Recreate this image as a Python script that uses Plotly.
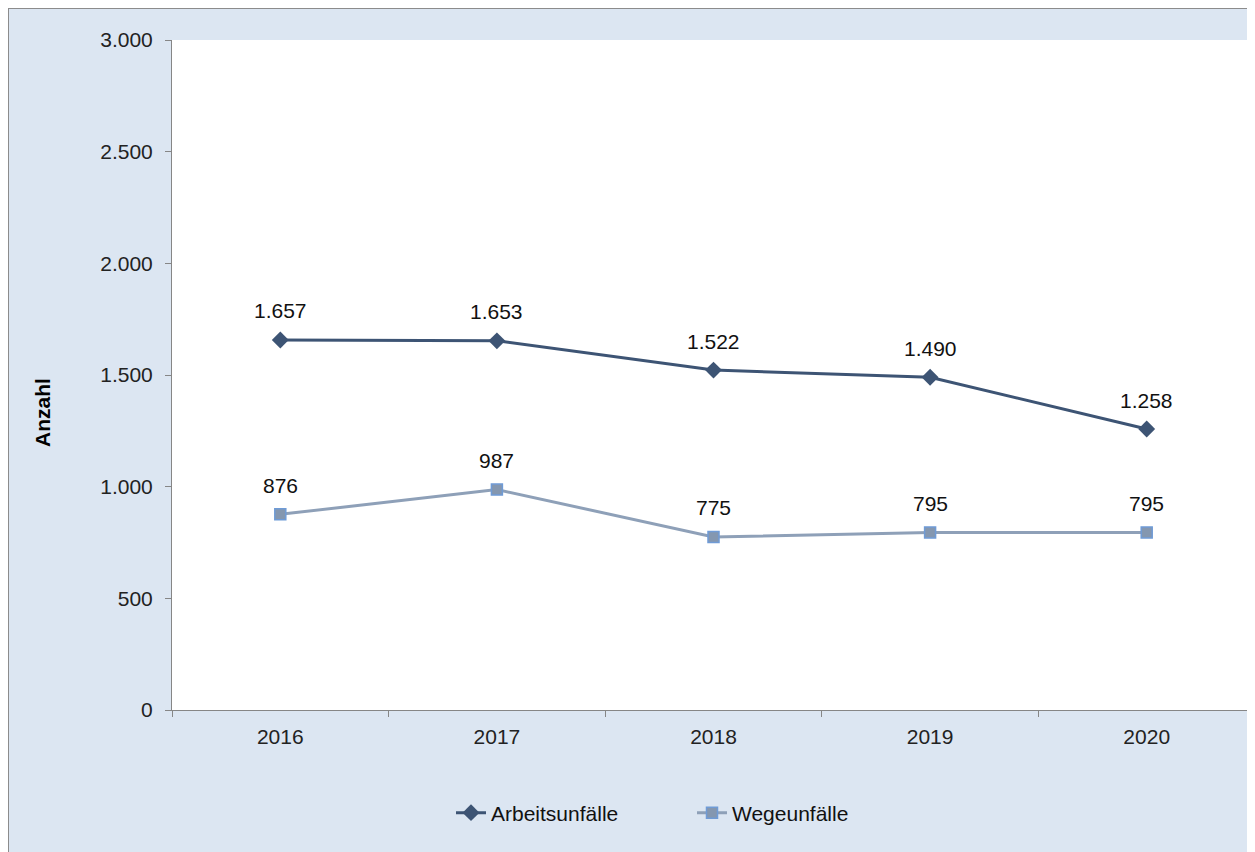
import plotly.graph_objects as go

# Data
years = ["2016", "2017", "2018", "2019", "2020"]
arbeitsunfaelle = [1657, 1653, 1522, 1490, 1258]
wegeunfaelle = [876, 987, 775, 795, 795]

# page has an 8px body margin, so the figure starts at (8, 8)
OFF = 8
W, H = 1255 - OFF, 852 - OFF
L, R, T, B = 172 - OFF, 0, 40 - OFF, 852 - 710
pw, ph = W - L - R, H - T - B

font = "Liberation Sans, Arial, sans-serif"
dark = "#3D5474"
light = "#8EA0B8"
fs = 21

fig = go.Figure()

fig.add_trace(go.Scatter(
    x=years, y=arbeitsunfaelle, name="Arbeitsunfälle", mode="lines+markers",
    line=dict(color=dark, width=3),
    marker=dict(symbol="diamond", size=13, color=dark, line=dict(width=0)),
))
fig.add_trace(go.Scatter(
    x=years, y=wegeunfaelle, name="Wegeunfälle", mode="lines+markers",
    line=dict(color=light, width=3),
    marker=dict(symbol="square", size=11, color="#8497B0", line=dict(color="#6F9BD6", width=1.5)),
))

# data labels above the points (category index on x)
annots = []
for series in (arbeitsunfaelle, wegeunfaelle):
    for i, v in enumerate(series):
        annots.append(dict(
            x=i, y=v, xref="x", yref="y", text=f"{v:,}".replace(",", "."),
            showarrow=False, yshift=29, xanchor="center", yanchor="middle",
            font=dict(family=font, size=fs, color="#111111"),
        ))

annots.append(dict(
    text="<b>Anzahl</b>", xref="paper", yref="paper",
    x=(42 - 172) / pw, y=(710 - 413) / ph, textangle=-90, showarrow=False,
    xanchor="center", yanchor="middle",
    font=dict(family=font, size=fs, color="#000000"),
))

# grey frame round the light blue chart area (cropped at right/bottom)
shapes = [
    dict(type="line", xref="paper", yref="paper", x0=-L / pw, x1=1.05,
         y0=1 + T / ph, y1=1 + T / ph, line=dict(color="#8C8C8C", width=2)),
    dict(type="line", xref="paper", yref="paper", x0=-L / pw, x1=-L / pw,
         y0=-B / ph, y1=1 + T / ph, line=dict(color="#8C8C8C", width=2)),
]

fig.update_layout(
    width=W, height=H,
    margin=dict(l=L, r=R, t=T, b=B),
    paper_bgcolor="#DCE6F2", plot_bgcolor="white",
    separators=",.",
    font=dict(family=font, size=fs, color="#222222"),
    showlegend=True,
    legend=dict(
        orientation="h", xref="container", yref="container",
        x=(692 - OFF) / W, xanchor="center", y=1 - (813 - OFF) / H, yanchor="middle",
        bgcolor="rgba(0,0,0,0)", font=dict(family=font, size=fs, color="#111111"),
        entrywidth=196,
    ),
    annotations=annots,
    shapes=shapes,
)

fig.update_xaxes(
    type="category", range=[-0.5, 4.5], showgrid=False,
    showline=True, linecolor="#868686", linewidth=1,
    ticks="outside", tickson="boundaries", ticklen=6, tickcolor="#868686",
    tickfont=dict(family=font, size=fs, color="#222222"),
    ticklabelstandoff=8,
)
fig.update_yaxes(
    range=[0, 3000], dtick=500, tickformat=",d", showgrid=False, zeroline=False,
    showline=True, linecolor="#868686", linewidth=1,
    ticks="outside", ticklen=6, tickcolor="#868686",
    tickfont=dict(family=font, size=fs, color="#222222"),
    ticklabelstandoff=8,
)

fig.write_html("out.html")
